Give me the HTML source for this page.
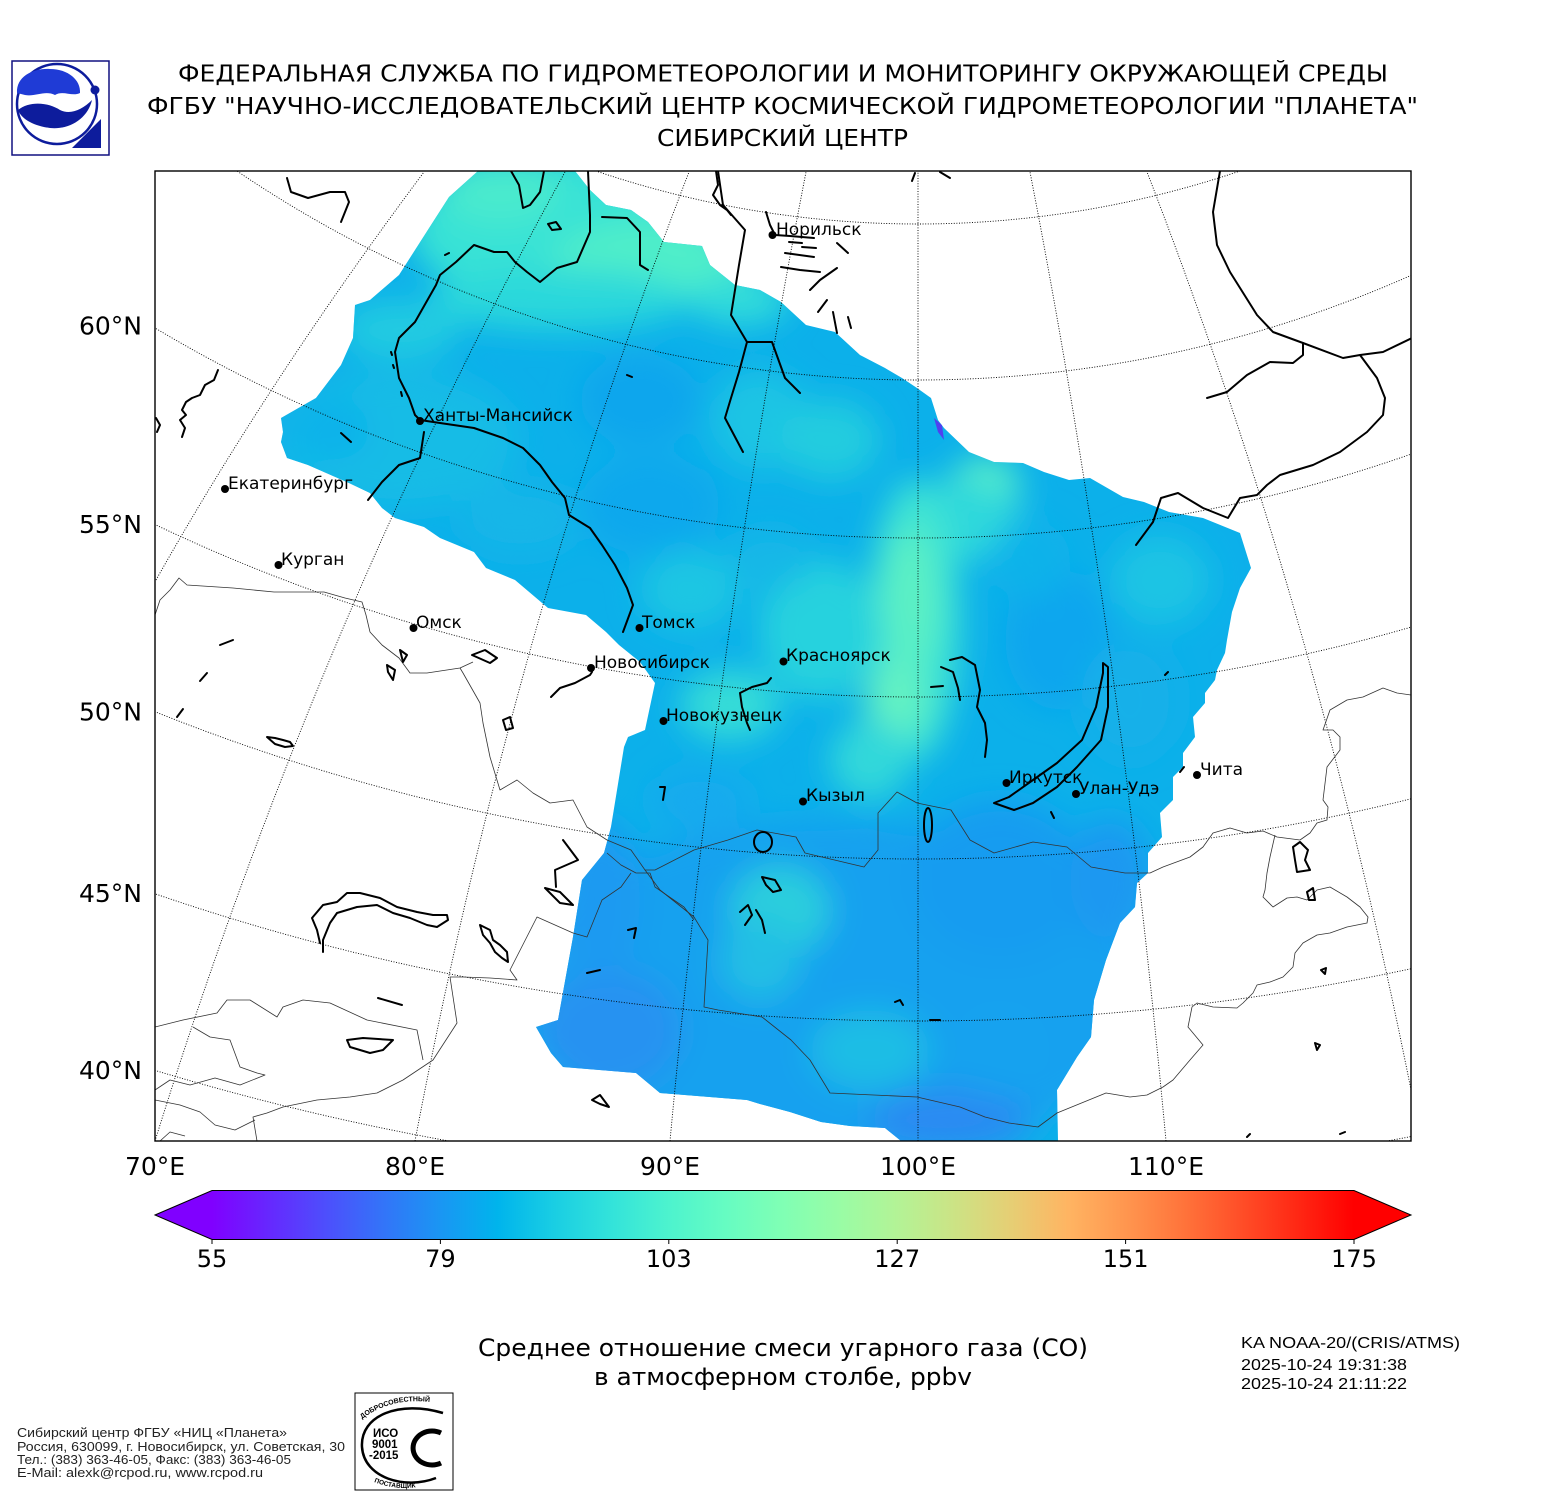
<!DOCTYPE html>
<html><head><meta charset="utf-8"><style>
html,body{margin:0;padding:0;background:#fff;}
svg{display:block;}
.t{font-family:"DejaVu Sans","Liberation Sans",sans-serif;fill:#000;}
.a{font-family:"Liberation Sans",Arial,sans-serif;}
.thk{fill:none;stroke:#000;stroke-width:2;stroke-linejoin:round;stroke-linecap:round;}
.thn{fill:none;stroke:#333;stroke-width:0.8;stroke-linejoin:round;}
.grat{fill:none;stroke:#000;stroke-width:0.9;stroke-dasharray:1 1.6;}
</style></head><body>
<svg width="1550" height="1500" viewBox="0 0 1550 1500" xmlns="http://www.w3.org/2000/svg">
<defs>
<clipPath id="frame"><rect x="155" y="171" width="1256" height="970"/></clipPath>
<clipPath id="dclip"><polygon points="478,171 575,171 590,190 606,205 631,210 648,222 664,242 702,246 710,265 735,285 760,290 781,302 806,325 835,332 860,355 885,368 902,378 917,388 931,398 938,420 944,428 969,452 994,462 1023,463 1044,472 1069,480 1090,478 1123,497 1144,502 1169,512 1203,518 1240,533 1251,568 1240,588 1232,612 1227,640 1225,653 1217,670 1215,680 1205,693 1205,703 1193,717 1195,737 1183,753 1183,767 1173,777 1173,800 1160,813 1162,837 1148,853 1148,873 1137,883 1135,907 1120,923 1106,960 1094,1000 1091,1037 1077,1057 1057,1090 1058,1141 901,1141 885,1128 850,1126 821,1122 790,1112 760,1104 747,1100 660,1093 636,1073 563,1067 551,1053 536,1027 558,1020 573,937 582,880 604,853 611,827 624,747 628,737 645,730 655,683 640,662 619,645 606,632 586,615 548,608 515,580 486,568 474,552 440,538 424,527 395,518 382,508 370,493 349,483 308,465 287,458 281,442 283,432 281,418 316,398 341,365 353,338 355,305 370,300 399,275 449,197"/></clipPath>
<filter id="blur" filterUnits="userSpaceOnUse" x="100" y="100" width="1400" height="1100"><feGaussianBlur stdDeviation="16"/></filter>
<linearGradient id="cb" gradientUnits="userSpaceOnUse" x1="212" y1="0" x2="1354" y2="0">
<stop offset="0" stop-color="#8000ff"/>
<stop offset="0.05" stop-color="#6628fe"/>
<stop offset="0.1" stop-color="#4d4ffc"/>
<stop offset="0.15" stop-color="#3374f8"/>
<stop offset="0.2" stop-color="#1a96f3"/>
<stop offset="0.25" stop-color="#00b4ec"/>
<stop offset="0.3" stop-color="#1acee3"/>
<stop offset="0.35" stop-color="#33e3da"/>
<stop offset="0.4" stop-color="#4df3ce"/>
<stop offset="0.45" stop-color="#66fcc2"/>
<stop offset="0.5" stop-color="#80ffb4"/>
<stop offset="0.55" stop-color="#99fca5"/>
<stop offset="0.6" stop-color="#b3f396"/>
<stop offset="0.65" stop-color="#cce385"/>
<stop offset="0.7" stop-color="#e6ce74"/>
<stop offset="0.75" stop-color="#ffb462"/>
<stop offset="0.8" stop-color="#ff964f"/>
<stop offset="0.85" stop-color="#ff743b"/>
<stop offset="0.9" stop-color="#ff4f28"/>
<stop offset="0.95" stop-color="#ff2814"/>
<stop offset="1" stop-color="#ff0000"/>
</linearGradient>
<path id="isoarc" d="M 362,1419 Q 398,1392 449,1406"/>
<path id="isoarc2" d="M 374,1482 Q 404,1494 436,1482"/>
</defs>

<!-- Logo -->
<rect x="12" y="61" width="97" height="94" fill="#fff" stroke="#101080" stroke-width="1.5"/>
<circle cx="57" cy="104" r="40" fill="none" stroke="#0d1c9c" stroke-width="2.5"/>
<path d="M 17,93 C 16,76 34,68 50,69 C 68,69 81,80 80,93 C 72,97 63,90 55,95 C 45,90 35,97 25,95 Z" fill="#1f3bd6"/>
<path d="M 18,110 C 30,100 50,103 60,110 C 70,115 82,110 92,100 C 88,118 70,130 50,128 C 35,126 22,120 18,110 Z" fill="#0d1c9c"/>
<circle cx="95" cy="90" r="4.5" fill="#0d1c9c"/>
<path d="M 72,148 L 101,119 L 101,148 Z" fill="#0d1c9c"/>

<!-- Titles -->
<text class="t" x="178" y="81.5" font-size="23.3" textLength="1210" lengthAdjust="spacingAndGlyphs">ФЕДЕРАЛЬНАЯ СЛУЖБА ПО ГИДРОМЕТЕОРОЛОГИИ И МОНИТОРИНГУ ОКРУЖАЮЩЕЙ СРЕДЫ</text>
<text class="t" x="147" y="114" font-size="23.3" textLength="1271" lengthAdjust="spacingAndGlyphs">ФГБУ "НАУЧНО-ИССЛЕДОВАТЕЛЬСКИЙ ЦЕНТР КОСМИЧЕСКОЙ ГИДРОМЕТЕОРОЛОГИИ "ПЛАНЕТА"</text>
<text class="t" x="657" y="146" font-size="23.3" textLength="251" lengthAdjust="spacingAndGlyphs">СИБИРСКИЙ ЦЕНТР</text>

<!-- Map -->
<g clip-path="url(#frame)">
  <g clip-path="url(#dclip)">
    <rect x="150" y="165" width="1270" height="985" fill="#0cb0ea"/>
    <g filter="url(#blur)">
      <ellipse cx="560" cy="230" rx="150" ry="75" fill="#38e2d6"/>
      <ellipse cx="650" cy="265" rx="100" ry="45" fill="#50eec9"/>
      <ellipse cx="500" cy="190" rx="60" ry="35" fill="#48eace"/>
      <ellipse cx="560" cy="300" rx="130" ry="30" fill="#2cd8db"/>
      <ellipse cx="740" cy="300" rx="50" ry="25" fill="#30dcda"/>
      <ellipse cx="400" cy="330" rx="60" ry="30" fill="#22cbe1"/>
      <ellipse cx="400" cy="440" rx="120" ry="70" fill="#14bce6"/>
      <ellipse cx="330" cy="430" rx="40" ry="30" fill="#0cb2ea"/>
      <ellipse cx="640" cy="400" rx="60" ry="45" fill="#08a6ed"/>
      <ellipse cx="650" cy="505" rx="70" ry="50" fill="#09a8ed"/>
      <ellipse cx="520" cy="520" rx="60" ry="35" fill="#12b6e8"/>
      <ellipse cx="760" cy="420" rx="50" ry="50" fill="#1cc4e4"/>
      <ellipse cx="830" cy="440" rx="50" ry="40" fill="#24ccdf"/>
      <ellipse cx="985" cy="485" rx="35" ry="28" fill="#58efc7"/>
      <ellipse cx="960" cy="520" rx="60" ry="40" fill="#2ed8dc"/>
      <ellipse cx="915" cy="620" rx="45" ry="140" fill="#40e4d3"/>
      <ellipse cx="910" cy="600" rx="28" ry="70" fill="#5cf0c4"/>
      <ellipse cx="895" cy="700" rx="30" ry="40" fill="#64f2c2"/>
      <ellipse cx="820" cy="630" rx="60" ry="70" fill="#28d2de"/>
      <ellipse cx="730" cy="705" rx="50" ry="35" fill="#34dcd8"/>
      <ellipse cx="690" cy="590" rx="50" ry="40" fill="#1ec6e3"/>
      <ellipse cx="770" cy="560" rx="40" ry="30" fill="#12b8e7"/>
      <ellipse cx="870" cy="760" rx="40" ry="40" fill="#30d8da"/>
      <ellipse cx="1060" cy="640" rx="55" ry="70" fill="#07a6ee"/>
      <ellipse cx="1160" cy="580" rx="50" ry="45" fill="#1cc4e4"/>
      <ellipse cx="1030" cy="560" rx="40" ry="40" fill="#0eb2ea"/>
      <ellipse cx="1130" cy="700" rx="50" ry="60" fill="#12b0e9"/>
      <ellipse cx="830" cy="990" rx="320" ry="170" fill="#14a1ef"/>
      <ellipse cx="610" cy="1030" rx="70" ry="60" fill="#2592f1"/>
      <ellipse cx="600" cy="900" rx="40" ry="80" fill="#1a9af1"/>
      <ellipse cx="780" cy="910" rx="50" ry="45" fill="#2ccedd"/>
      <ellipse cx="760" cy="960" rx="40" ry="40" fill="#22bfe4"/>
      <ellipse cx="870" cy="1050" rx="60" ry="40" fill="#1cbde5"/>
      <ellipse cx="1000" cy="880" rx="90" ry="80" fill="#169cf0"/>
      <ellipse cx="1110" cy="880" rx="40" ry="60" fill="#1a98f1"/>
      <ellipse cx="950" cy="1120" rx="80" ry="30" fill="#2a8af2"/>
      <ellipse cx="700" cy="800" rx="50" ry="30" fill="#12aaee"/>
      <ellipse cx="1000" cy="1050" rx="50" ry="50" fill="#18a2ef"/>
    </g>
    <path d="M 934,418 L 942,425 944,440 938,432 Z" fill="#5040f0"/>
  </g>

  <!-- graticule -->
  <circle class="grat" cx="918" cy="-781" r="1005"/>
  <circle class="grat" cx="918" cy="-834" r="1214"/>
  <circle class="grat" cx="918" cy="-953" r="1491"/>
  <circle class="grat" cx="918" cy="-1077" r="1774"/>
  <circle class="grat" cx="918" cy="-1191" r="2050"/>
  <circle class="grat" cx="918" cy="-1331" r="2352"/>
  <circle class="grat" cx="918" cy="-1458" r="2641"/>
  <path class="grat" d="M 156,580 Q 270,378 424,172"/>
  <path class="grat" d="M 155,1141 Q 316,623.5 565,172"/>
  <path class="grat" d="M 415,1141 Q 514,623.5 689,172"/>
  <path class="grat" d="M 670,1141 Q 718,623.5 806,172"/>
  <path class="grat" d="M 918,1141 L 918,171"/>
  <path class="grat" d="M 1166,1141 Q 1118,623.5 1030,172"/>
  <path class="grat" d="M 1421,1141 Q 1322,623.5 1147,172"/>

  <!-- thin borders -->
  <path class="thn" d="M 155,615 L 160,600 170,590 179,578 187,585 233,588 274,592 324,592 345,598 362,602 366,615 370,632 382,645 399,658 410,673 427,673 460,668 473,662"/>
  <path class="thn" d="M 460,668 L 463,673 480,703 483,723 490,757 500,790 517,780 533,793 550,803 573,800 587,827 607,840 631,850 645,870 655,870 694,850 728,840 757,830 796,837 805,853 864,867 878,850 878,813 897,792 917,803 951,810 970,840 994,853 1033,842 1067,847 1091,867 1125,873 1150,873 1163,867 1190,857 1203,847 1213,833 1230,828 1247,833 1263,831 1277,837 1300,840 1310,833 1317,823 1327,820 1328,807 1323,800 1327,767 1340,750 1340,737 1333,730 1323,730 1330,710 1347,700 1363,697 1383,688 1397,693 1411,695"/>
  <path class="thn" d="M 645,870 L 660,890 694,917 708,940 704,1007 718,1010 762,1017 791,1040 810,1060 830,1093 917,1097 960,1107 985,1117 1009,1123 1038,1127 1057,1113 1106,1093 1130,1097 1147,1095 1163,1087 1173,1080 1190,1060 1203,1045 1188,1027 1192,1007 1197,1003 1213,1007 1237,1008 1243,1003 1253,993 1257,985 1270,982 1283,977 1293,967 1295,953 1303,943 1317,935 1330,933 1347,927 1367,923 1368,917 1360,907 1347,897 1330,887 1317,890 1307,900 1297,897 1287,898 1273,907 1263,897 1265,890 1267,873 1270,857 1275,835"/>
  <path class="thn" d="M 607,853 L 621,865 636,873 650,873 655,887 684,907 694,920"/>
  <path class="thn" d="M 631,873 L 621,887 602,900 587,937 573,933 537,917 510,970 517,980 490,978 463,977 450,977 457,1023 433,1060 403,1080 377,1093 350,1097 317,1100 283,1107 267,1113 253,1117 257,1141"/>
  <path class="thn" d="M 423,1060 L 417,1030 367,1020 330,1003 303,1000 283,1007 277,1017 250,1000 227,1000 217,1013 183,1020 155,1027"/>
  <path class="thn" d="M 193,1027 L 210,1037 230,1040 240,1067 257,1073 265,1075 240,1085 215,1078 190,1085 170,1080 155,1090"/>
  <path class="thn" d="M 155,1100 L 180,1105 200,1112 215,1125 235,1130 255,1120"/>
  <path class="thn" d="M 160,1141 L 170,1132 185,1136"/>

  <!-- thick features -->
  <path class="thk" d="M 623,632 L 633,605 627,588 615,565 602,545 590,528 569,515 565,498 552,482 540,465 523,448 503,438 474,428 440,423 420,420 415,415 409,398 399,378 395,352 399,338 415,322 436,285 440,275 456,262 474,245 494,252 507,252 515,262 527,272 540,282 557,268 577,262 590,232 590,215 588,171"/>
  <path class="thk" d="M 424,432 L 420,458 399,465 382,482 368,500"/>
  <path class="thk" d="M 511,171 L 519,185 523,208 530,205 540,192 544,171"/>
  <path class="thk" d="M 602,217 L 627,218 640,232 640,265 648,270"/>
  <path class="thk" d="M 287,178 L 291,192 308,198 330,192 345,192 349,202 341,222"/>
  <path class="thk" d="M 218,370 L 214,380 205,385 200,395 192,398 186,402 182,410 186,415 180,420 185,428 182,437"/>
  <path class="thk" d="M 156,418 L 160,425 157,432"/>
  <path class="thk" d="M 718,171 L 723,205 745,230 739,265 731,315 747,342 739,372 731,398 725,418 743,452"/>
  <path class="thk" d="M 747,342 L 772,342 785,378 800,393"/>
  <path class="thk" d="M 716,171 L 718,185 713,195 720,205 727,210 731,215"/>
  <path class="thk" d="M 766,212 L 770,225 775,235 L 790,236 814,238"/>
  <path class="thk" d="M 789,242 L 802,243 M 802,247 L 816,248 M 785,253 L 814,257 M 781,267 L 800,270 820,272 M 810,290 L 820,280 837,268 M 837,243 L 848,253 M 818,312 L 827,300 M 833,312 L 837,333 M 848,317 L 851,328"/>
  <path class="thk" d="M 912,181 L 915,173 M 940,172 L 950,178"/>
  <path class="thk" d="M 1220,171 L 1213,212 1217,245 1230,272 1257,315 1273,332 1303,343 1343,358 1360,355 1383,352 1412,338"/>
  <path class="thk" d="M 1303,343 L 1303,355 1293,363 1270,362 1247,375 1227,392 1207,398"/>
  <path class="thk" d="M 1360,355 L 1377,378 1385,398 1383,415 1367,432 1340,452 1313,465 1280,475 1267,485 1257,495 1240,498 1228,518 1203,508 1178,493 1161,498 1153,522 1136,545"/>
  <path class="thk" d="M 1103,663 L 1108,667 1108,707 1101,740 1077,767 1057,787 1033,803 1014,810 994,803 1009,797 1033,780 1057,763 1082,740 1096,707 1103,673 Z"/>
  <path class="thk" d="M 941,667 L 953,672 958,688 960,700"/>
  <path class="thk" d="M 950,660 L 962,657 975,665 980,690 977,707 985,723 987,740 985,757"/>
  <path class="thk" d="M 931,687 L 943,686"/>
  <path class="thk" d="M 740,693 L 752,687 767,683 771,678 M 740,693 L 742,707 747,723 750,730"/>
  <path class="thk" d="M 551,697 L 560,688 575,683 590,675 592,672"/>
  <ellipse class="thk" cx="763" cy="842" rx="9" ry="10"/>
  <ellipse class="thk" cx="928" cy="825" rx="4" ry="17"/>
  <path class="thk" d="M 762,877 L 775,880 781,890 773,892 766,885 Z"/>
  <path class="thk" d="M 740,912 L 748,905 752,915 745,925 M 756,910 L 762,920 765,933"/>
  <path class="thk" d="M 660,787 L 665,787 663,800"/>
  <path class="thk" d="M 628,930 L 636,928 634,938 M 587,973 L 600,970"/>
  <path class="thk" d="M 895,1002 L 900,1000 903,1005 M 930,1020 L 940,1020"/>
  <path class="thk" d="M 592,1100 L 600,1095 609,1107 600,1104 Z"/>
  <path class="thk" d="M 563,840 L 578,860 555,870 556,887 M 545,888 L 560,892 573,905 560,903 Z"/>
  <path class="thk" d="M 320,943 L 317,930 312,918 323,905 337,902 347,893 360,893 380,898 397,907 417,912 433,915 447,915 448,920 437,927 427,925 410,918 393,913 377,905 357,907 337,913 330,923 323,940 323,952"/>
  <path class="thk" d="M 480,925 L 490,930 493,940 500,945 507,952 508,962 502,958 495,952 490,943 483,935 Z"/>
  <path class="thk" d="M 347,1040 L 363,1038 393,1040 383,1050 370,1053 350,1047 Z"/>
  <path class="thk" d="M 378,998 L 402,1005"/>
  <path class="thk" d="M 267,737 L 275,738 283,740 290,742 293,746 285,747 275,744 Z"/>
  <path class="thk" d="M 177,717 L 183,709 M 200,681 L 207,673 M 220,645 L 233,640"/>
  <path class="thk" d="M 387,665 L 395,670 393,680 388,672 Z M 400,650 L 407,655 403,662 Z M 472,655 L 485,650 497,658 490,663 Z M 503,720 L 510,717 513,728 506,730 Z"/>
  <path class="thk" d="M 548,224 L 556,222 561,229 552,230 Z M 445,255 L 449,253"/>
  <path class="thk" d="M 391,352 L 392,355 M 393,365 L 394,368 M 401,392 L 402,396 M 341,433 L 351,442 M 627,375 L 632,377"/>
  <path class="thk" d="M 1051,812 L 1054,818 M 1165,675 L 1168,672 M 1180,772 L 1184,767"/>
  <path class="thk" d="M 1293,847 L 1300,842 1308,850 1305,860 1310,870 1297,872 1295,860 Z M 1307,892 L 1313,888 1315,900 1309,900 Z"/>
  <path class="thk" d="M 1321,970 L 1326,968 1325,974 Z M 1315,1043 L 1320,1045 1317,1050 Z M 1247,1137 L 1250,1134 M 1340,1134 L 1345,1132"/>
</g>
<rect x="155" y="171" width="1256" height="970" fill="none" stroke="#000" stroke-width="1.4"/>

<!-- Cities -->
<g class="t" font-size="17">
<circle cx="772.5" cy="235" r="4"/><text x="776" y="235">Норильск</text>
<circle cx="420" cy="421" r="4"/><text x="423" y="421">Ханты-Мансийск</text>
<circle cx="225" cy="489" r="4"/><text x="228" y="489">Екатеринбург</text>
<circle cx="278.5" cy="565" r="4"/><text x="281" y="565">Курган</text>
<circle cx="413.5" cy="628" r="4"/><text x="416" y="628">Омск</text>
<circle cx="639.5" cy="628" r="4"/><text x="642" y="628">Томск</text>
<circle cx="591" cy="668" r="4"/><text x="594" y="668">Новосибирск</text>
<circle cx="783.5" cy="661.5" r="4"/><text x="786" y="661">Красноярск</text>
<circle cx="663.5" cy="721" r="4"/><text x="666" y="721">Новокузнецк</text>
<circle cx="803" cy="801.5" r="4"/><text x="806" y="801">Кызыл</text>
<circle cx="1006.5" cy="783" r="4"/><text x="1009" y="783">Иркутск</text>
<circle cx="1076" cy="794" r="4"/><text x="1079" y="794">Улан-Удэ</text>
<circle cx="1197" cy="775" r="4"/><text x="1200" y="775">Чита</text>
</g>

<!-- Axis labels -->
<g class="t" font-size="25" text-anchor="end">
<text x="142" y="334.5">60°N</text>
<text x="142" y="533">55°N</text>
<text x="142" y="720.5">50°N</text>
<text x="142" y="902">45°N</text>
<text x="142" y="1079">40°N</text>
</g>
<g class="t" font-size="25" text-anchor="middle">
<text x="155" y="1175">70°E</text>
<text x="415" y="1175">80°E</text>
<text x="670" y="1175">90°E</text>
<text x="918" y="1175">100°E</text>
<text x="1166" y="1175">110°E</text>
</g>

<!-- Colorbar -->
<polygon points="155,1215 212,1190.5 212,1239.5" fill="#8000ff"/>
<polygon points="1411,1215 1354,1190.5 1354,1239.5" fill="#ff0000"/>
<rect x="212" y="1190.5" width="1142" height="49" fill="url(#cb)"/>
<polygon points="155,1215 212,1190.5 1354,1190.5 1411,1215 1354,1239.5 212,1239.5" fill="none" stroke="#000" stroke-width="1"/>
<g stroke="#000" stroke-width="1">
<line x1="212" y1="1239.5" x2="212" y2="1244"/>
<line x1="440.4" y1="1239.5" x2="440.4" y2="1244"/>
<line x1="668.8" y1="1239.5" x2="668.8" y2="1244"/>
<line x1="897.2" y1="1239.5" x2="897.2" y2="1244"/>
<line x1="1125.6" y1="1239.5" x2="1125.6" y2="1244"/>
<line x1="1354" y1="1239.5" x2="1354" y2="1244"/>
</g>
<g class="t" font-size="24" text-anchor="middle">
<text x="212" y="1267">55</text>
<text x="440.4" y="1267">79</text>
<text x="668.8" y="1267">103</text>
<text x="897.2" y="1267">127</text>
<text x="1125.6" y="1267">151</text>
<text x="1354" y="1267">175</text>
</g>

<!-- Bottom title -->
<text class="t" x="478" y="1356" font-size="24" textLength="610" lengthAdjust="spacingAndGlyphs">Среднее отношение смеси угарного газа (CO)</text>
<text class="t" x="594" y="1385" font-size="24" textLength="378" lengthAdjust="spacingAndGlyphs">в атмосферном столбе, ppbv</text>

<!-- Right info -->
<g class="a" font-size="16" fill="#000">
<text x="1241" y="1348" textLength="219" lengthAdjust="spacingAndGlyphs">KA NOAA-20/(CRIS/ATMS)</text>
<text x="1241" y="1370" textLength="166" lengthAdjust="spacingAndGlyphs">2025-10-24 19:31:38</text>
<text x="1241" y="1389" textLength="166" lengthAdjust="spacingAndGlyphs">2025-10-24 21:11:22</text>
</g>

<!-- Footer -->
<g class="a" font-size="12.8" fill="#222">
<text x="17" y="1437" textLength="270" lengthAdjust="spacingAndGlyphs">Сибирский центр ФГБУ «НИЦ «Планета»</text>
<text x="17" y="1451" textLength="328" lengthAdjust="spacingAndGlyphs">Россия, 630099, г. Новосибирск, ул. Советская, 30</text>
<text x="17" y="1464" textLength="274" lengthAdjust="spacingAndGlyphs">Тел.: (383) 363-46-05, Факс: (383) 363-46-05</text>
<text x="17" y="1477" textLength="246" lengthAdjust="spacingAndGlyphs">E-Mail: alexk@rcpod.ru, www.rcpod.ru</text>
</g>

<!-- ISO logo -->
<rect x="355" y="1393" width="98" height="97" fill="#fff" stroke="#000" stroke-width="1"/>
<path d="M 443,1413 C 400,1400 360,1415 362,1447 C 364,1478 405,1490 436,1478" fill="none" stroke="#000" stroke-width="2.5"/>
<path d="M 441,1433 A 19 17 0 1 0 441,1463" fill="none" stroke="#000" stroke-width="5"/>
<g class="a" font-weight="bold" fill="#000">
<text x="373" y="1437" font-size="11.5">ИСО</text>
<text x="372" y="1448" font-size="11.5">9001</text>
<text x="369" y="1459" font-size="11.5">-2015</text>
<text font-size="7"><textPath href="#isoarc">ДОБРОСОВЕСТНЫЙ</textPath></text>
<text font-size="6.5"><textPath href="#isoarc2">ПОСТАВЩИК</textPath></text>
</g>
</svg>
</body></html>
